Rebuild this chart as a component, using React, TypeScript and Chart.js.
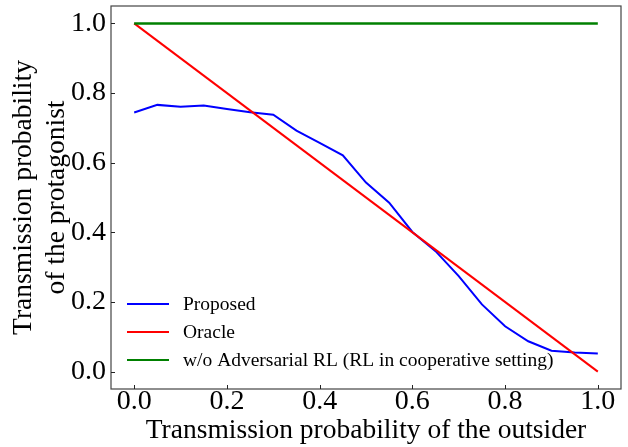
import React, { useEffect, useRef } from "react";
import { Chart, registerables } from "chart.js";

Chart.register(...registerables);

const xValues = [0, 0.05, 0.1, 0.15, 0.2, 0.25, 0.3, 0.35, 0.4, 0.45, 0.5, 0.55, 0.6, 0.65, 0.7, 0.75, 0.8, 0.85, 0.9, 0.95, 1.0];
const proposed = [0.744, 0.766, 0.761, 0.764, 0.754, 0.745, 0.738, 0.692, 0.657, 0.621, 0.543, 0.485, 0.401, 0.346, 0.274, 0.193, 0.130, 0.087, 0.060, 0.055, 0.052];
const oracleX = [0, 1];
const oracle = [1, 0];
const baselineX = [0, 1];
const baseline = [1, 1];
const tickValues = [0, 0.2, 0.4, 0.6, 0.8, 1.0];
const labels = ["Proposed", "Oracle", "w/o Adversarial RL (RL in cooperative setting)"];
const colors = ["#0000ff", "#ff0000", "#008000"];

const FONT = "'Liberation Serif', 'DejaVu Serif', serif";

const framePlugin = {
  id: "frameAndLegend",
  afterDatasetsDraw(chart: any) {
    const { ctx, chartArea, scales } = chart;
    ctx.save();
    ctx.strokeStyle = "#444444";
    ctx.lineWidth = 1.2;
    ctx.strokeRect(chartArea.left, chartArea.top, chartArea.right - chartArea.left, chartArea.bottom - chartArea.top);
    // inward tick marks
    ctx.lineWidth = 1;
    ctx.strokeStyle = "#222222";
    tickValues.forEach((v) => {
      const px = Math.round(scales.x.getPixelForValue(v)) + 0.5;
      ctx.beginPath();
      ctx.moveTo(px, chartArea.bottom);
      ctx.lineTo(px, chartArea.bottom - 4);
      ctx.stroke();
      const py = Math.round(scales.y.getPixelForValue(v)) + 0.5;
      ctx.beginPath();
      ctx.moveTo(chartArea.left, py);
      ctx.lineTo(chartArea.left + 4, py);
      ctx.stroke();
    });
    // legend
    const x0 = chartArea.left + 16;
    const rowH = 28;
    const yStart = chartArea.bottom - 85;
    ctx.font = `19.5px ${FONT}`;
    ctx.textBaseline = "middle";
    ctx.fillStyle = "#000";
    labels.forEach((lab, i) => {
      const y = yStart + i * rowH;
      ctx.strokeStyle = colors[i];
      ctx.lineWidth = 2.2;
      ctx.beginPath();
      ctx.moveTo(x0, y);
      ctx.lineTo(x0 + 42, y);
      ctx.stroke();
      ctx.fillText(lab, x0 + 56, y + 1);
    });
    ctx.restore();
  },
};

export default function App() {
  const ref = useRef<HTMLCanvasElement>(null);
  useEffect(() => {
    if (!ref.current) return;
    const chart = new Chart(ref.current, {
      type: "line",
      data: {
        datasets: [
          {
            label: labels[0],
            data: xValues.map((x, i) => ({ x, y: proposed[i] })),
            borderColor: colors[0],
            borderWidth: 2,
            pointRadius: 0,
            order: 3,
          },
          {
            label: labels[1],
            data: oracleX.map((x, i) => ({ x, y: oracle[i] })),
            borderColor: colors[1],
            borderWidth: 2,
            pointRadius: 0,
            order: 2,
          },
          {
            label: labels[2],
            data: baselineX.map((x, i) => ({ x, y: baseline[i] })),
            borderColor: colors[2],
            borderWidth: 2.5,
            pointRadius: 0,
            order: 1,
          },
        ],
      },
      options: {
        responsive: false,
        animation: false,
        layout: { padding: { top: 6, right: 7, left: 0, bottom: 0 } },
        plugins: { legend: { display: false }, tooltip: { enabled: false } },
        scales: {
          x: {
            type: "linear",
            min: -0.05,
            max: 1.05,
            afterBuildTicks: (s: any) => {
              s.ticks = tickValues.map((v) => ({ value: v }));
            },
            afterFit: (s: any) => {
              s.height = 58;
              s.paddingLeft = 0;
              s.paddingRight = 0;
            },
            ticks: {
              font: { family: FONT, size: 28, lineHeight: 0.43 },
              color: "#000",
              padding: 7,
              maxRotation: 0,
              callback: (v: any) => Number(v).toFixed(1),
            },
            grid: { display: false, drawTicks: false, tickLength: 0 },
            border: { display: false },
            title: {
              display: true,
              text: "Transmission probability of the outsider",
              font: { family: FONT, size: 27.5 },
              color: "#000",
              padding: { top: 0, bottom: 0 },
            },
          },
          y: {
            type: "linear",
            min: -0.05,
            max: 1.05,
            afterBuildTicks: (s: any) => {
              s.ticks = tickValues.map((v) => ({ value: v }));
            },
            afterFit: (s: any) => {
              s.width = 111;
              s.paddingTop = 0;
              s.paddingBottom = 0;
            },
            ticks: {
              font: { family: FONT, size: 28, lineHeight: 0.43 },
              color: "#000",
              padding: 5,
              callback: (v: any) => Number(v).toFixed(1),
            },
            grid: { display: false, drawTicks: false, tickLength: 0 },
            border: { display: false },
            title: {
              display: true,
              text: ["Transmission probability", "of the protagonist"],
              font: { family: FONT, size: 27.5, lineHeight: 1.18 },
              color: "#000",
              padding: { top: 8, bottom: 0 },
            },
          },
        },
      },
      plugins: [framePlugin],
    });
    return () => chart.destroy();
  }, []);
  return (
    <div style={{ position: "fixed", left: 0, top: 0, width: 628, height: 447, background: "#fff" }}>
      <canvas ref={ref} width={628} height={447} />
    </div>
  );
}
